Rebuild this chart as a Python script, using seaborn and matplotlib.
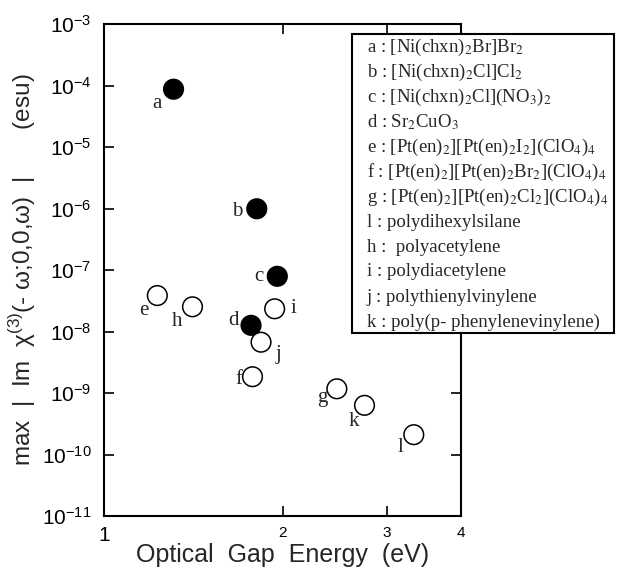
import numpy as np
import pandas as pd
import matplotlib
matplotlib.use("Agg")
import matplotlib.pyplot as plt
from matplotlib.patches import Rectangle
import seaborn as sns

# ---- data ----
labels = ["a", "b", "c", "d", "e", "f", "g", "h", "i", "j", "k", "l"]
gap_ev = [1.31, 1.81, 1.96, 1.77, 1.23, 1.78, 2.47, 1.41, 1.94, 1.84, 2.75, 3.33]
chi3 = [8.7e-5, 9.9e-7, 7.9e-8, 1.26e-8, 3.84e-8, 1.84e-9, 1.17e-9, 2.52e-8,
        2.34e-8, 6.7e-9, 6.3e-10, 2.1e-10]
kind = ["filled", "filled", "filled", "filled", "open", "open", "open", "open",
        "open", "open", "open", "open"]
# label offsets (pixels) relative to the marker
label_dx = [-17, -20, -18, -18, -13, -14, -15, -15, 19, 17, -11, -13]
label_dy = [-14, -3, 0, 5, -15, -3, -9, -15, 0, -12, -16, -13]

legend_lines = [
    r"a : [Ni(chxn)$_2$Br]Br$_2$",
    r"b : [Ni(chxn)$_2$Cl]Cl$_2$",
    r"c : [Ni(chxn)$_2$Cl](NO$_3$)$_2$",
    r"d : Sr$_2$CuO$_3$",
    r"e : [Pt(en)$_2$][Pt(en)$_2$I$_2$](ClO$_4$)$_4$",
    r"f : [Pt(en)$_2$][Pt(en)$_2$Br$_2$](ClO$_4$)$_4$",
    r"g : [Pt(en)$_2$][Pt(en)$_2$Cl$_2$](ClO$_4$)$_4$",
    r"l : polydihexylsilane",
    r"h :  polyacetylene",
    r"i : polydiacetylene",
    r"j : polythienylvinylene",
    r"k : poly(p- phenylenevinylene)",
]

x_ticks = [1, 2, 3, 4]
y_exponents = [-11, -10, -9, -8, -7, -6, -5, -4, -3]

df = pd.DataFrame({"label": labels, "gap": gap_ev, "chi3": chi3, "kind": kind})

# ---- style ----
sns.set_style("ticks")
plt.rcParams["font.family"] = ["Liberation Sans", "DejaVu Sans"]

W, H = 620, 569
fig = plt.figure(figsize=(W / 100, H / 100), dpi=100)
ax = fig.add_axes([104 / W, 1 - 516 / H, (461 - 104) / W, (516 - 24) / H])

sns.scatterplot(data=df, x="gap", y="chi3", hue="kind",
                palette={"filled": "black", "open": "white"},
                edgecolor="black", linewidth=1.1, s=200, legend=False,
                ax=ax, zorder=3, clip_on=False)

ax.set_xscale("log")
ax.set_yscale("log")
ax.set_xlim(1, 4)
ax.set_ylim(1e-11, 1e-3)

ax.set_xticks(x_ticks)
ax.set_xticklabels([str(t) for t in x_ticks])
ax.xaxis.set_minor_locator(matplotlib.ticker.NullLocator())
for lab, t in zip(ax.get_xticklabels(), x_ticks):
    lab.set_fontsize(15 if t == 1 else 11)
ax.set_yticks([10.0 ** e for e in y_exponents])
ax.set_yticklabels([r"$\mathregular{10^{%d}}$" % e for e in y_exponents], fontsize=15)
ax.yaxis.set_minor_locator(matplotlib.ticker.NullLocator())

ax.tick_params(axis="both", which="major", direction="in", length=7, width=1.2,
               top=True, right=True, colors="black")
ax.tick_params(axis="x", pad=7)
ax.tick_params(axis="y", pad=9)
for sp in ax.spines.values():
    sp.set_linewidth(1.5)
    sp.set_color("black")

ax.set_xlabel("Optical  Gap  Energy  (eV)", fontsize=18, labelpad=-1)
ax.set_ylabel(r"max  |  Im  χ$^{\mathregular{(3)}}$(- ω;0,0,ω)  |       (esu)",
              fontsize=17.5)
ax.yaxis.set_label_coords(-0.185, 0.5)

for lab, xv, yv, dx, dy in zip(labels, gap_ev, chi3, label_dx, label_dy):
    ax.annotate(lab, (xv, yv), xytext=(dx, dy), textcoords="offset pixels",
                ha="center", va="center", fontsize=15,
                family=["Liberation Serif", "DejaVu Serif"], zorder=4)

# ---- legend box (text-only key) ----
box = Rectangle((352 / W, 1 - 333 / H), (614 - 352) / W, (333 - 34) / H,
                transform=fig.transFigure, facecolor="white", edgecolor="black",
                linewidth=1.5, zorder=10)
fig.add_artist(box)
for i, line in enumerate(legend_lines):
    y_px = 47 + 25 * i
    fig.text(367 / W, 1 - y_px / H, line, ha="left", va="center",
             fontsize=13.5, family=["Liberation Serif", "DejaVu Serif"],
             math_fontfamily="stix", zorder=11)

fig.savefig("out.png", dpi=100)
